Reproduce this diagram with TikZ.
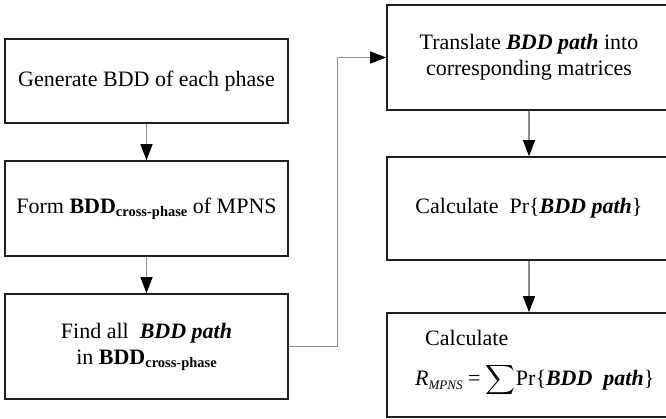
\documentclass[tikz,border=0pt]{standalone}
\usepackage{amsmath}
\usepackage{fontspec}
\setmainfont{Liberation Serif}
\usetikzlibrary{arrows.meta}
% bold "BDD" with its bold subscript
\newcommand\bddcross{\textbf{BDD}\raisebox{-3pt}{\fontsize{14.5}{14.5}\selectfont\bfseries cross-phase}}
\newcommand\bddpath{\textbf{\textit{BDD path}}}
\begin{document}
\begin{tikzpicture}[x=1pt,y=-1pt,
  box/.style={draw=black!88, line width=1.6pt, inner sep=0pt, align=center,
              font=\fontsize{22}{26}\selectfont},
  conn/.style={draw=black!45, line width=1.1pt,
               -{Triangle[length=16pt,width=12pt,color=black]}},
  txt/.style={inner sep=0pt, font=\fontsize{22}{26}\selectfont}]
\useasboundingbox (0,0) rectangle (666,419);
\clip (0,0) rectangle (666,419);

% left column
\node[box, minimum width=283pt, minimum height=84pt]  (b1) at (146.5,81)    {Generate BDD of each phase};
\node[box, minimum width=283pt, minimum height=95pt]  (b2) at (146.5,208.5) {Form \bddcross\ of MPNS};
\node[box, minimum width=283pt, minimum height=105pt] (b3) at (146.5,346.5) {Find all \ \bddpath\\ in \bddcross};

% right column (runs past the right edge)
\node[box, minimum width=284pt, minimum height=105pt] (b4) at (529,57.5)  {Translate \bddpath\ into\\corresponding matrices};
\node[box, minimum width=284pt, minimum height=103pt] (b5) at (529,208.5) {Calculate \ Pr\{\bddpath\}};
\node[box, minimum width=284pt, minimum height=104pt] (b6) at (529,365)   {};
\node[txt, anchor=base west] (t6a) at (425,345) {Calculate};
\node[txt, anchor=base west] (t6b) at (415,385)
  {\textit{R}\raisebox{-4pt}{\fontsize{13}{13}\selectfont\itshape MPNS} = $\displaystyle\sum$Pr\{\textbf{\textit{BDD\ \ path}}\}};

% connectors
\draw[conn] (b1) -- (b2);
\draw[conn] (b2) -- (b3);
\draw[conn] (b3.east) -- ([xshift=49pt]b3.east) |- (b4.west);
\draw[conn] (b4) -- (b5);
\draw[conn] (b5) -- (b6);
\end{tikzpicture}
\end{document}
